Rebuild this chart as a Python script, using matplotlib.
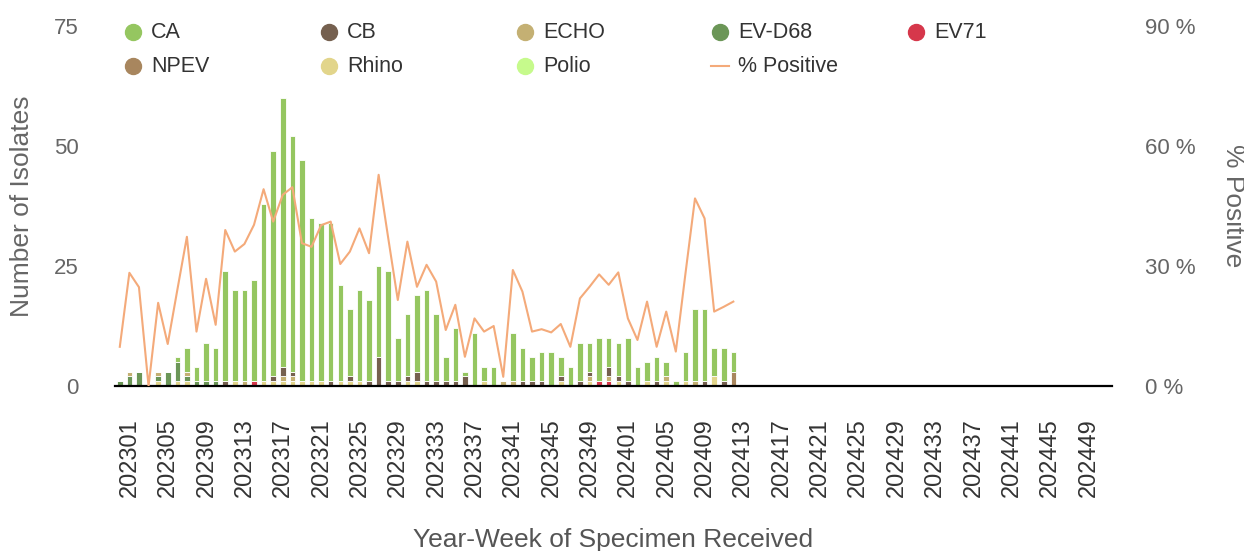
import numpy as np
import matplotlib
matplotlib.use("Agg")
import matplotlib.pyplot as plt
from matplotlib.lines import Line2D
import matplotlib.transforms as mtransforms

plt.rcParams['font.family'] = ['Liberation Sans', 'DejaVu Sans']

# categories: year-week 202301..202352, 202401..202452
weeks = [f"{y}{w:02d}" for y in (2023, 2024) for w in range(1, 53)]
tick_labels = weeks[::4]

# series (202301 .. 202413)
ca = [0, 0, 0, 0, 0, 0, 1, 5, 3, 8, 7,
      23, 19, 19, 21, 37, 47, 56, 49, 46, 34,
      33, 33, 20, 14, 19, 17, 19, 23, 9, 13,
      16, 19, 14, 5, 11, 1, 11, 3, 4, 0,
      10, 7, 5, 6, 7, 4, 4, 8, 6, 9,
      6, 7, 9, 4, 4, 5, 3, 1, 6, 15,
      15, 6, 7, 4]
cb = [0, 0, 0, 0, 0, 0, 0, 0, 0, 0, 0,
      1, 0, 0, 0, 0, 1, 2, 1, 0, 0,
      0, 1, 0, 1, 0, 1, 6, 1, 1, 1,
      2, 1, 1, 1, 1, 2, 0, 0, 0, 0,
      0, 1, 1, 1, 0, 1, 0, 1, 1, 0,
      2, 1, 1, 0, 0, 1, 0, 0, 0, 0,
      1, 0, 1, 0]
echo = [0, 1, 0, 0, 1, 0, 0, 1, 0, 0, 0,
        0, 0, 1, 0, 0, 0, 1, 1, 0, 0,
        0, 0, 0, 0, 0, 0, 0, 0, 0, 0,
        0, 0, 0, 0, 0, 0, 0, 0, 0, 1,
        1, 0, 0, 0, 0, 0, 0, 0, 1, 0,
        1, 0, 0, 0, 0, 0, 1, 0, 0, 1,
        0, 0, 0, 0]
evd68 = [1, 2, 3, 0, 1, 3, 4, 1, 1, 1, 1,
         0, 0, 0, 0, 0, 0, 0, 0, 0, 0,
         0, 0, 0, 0, 0, 0, 0, 0, 0, 0,
         0, 0, 0, 0, 0, 0, 0, 0, 0, 0,
         0, 0, 0, 0, 0, 0, 0, 0, 0, 0,
         0, 0, 0, 0, 0, 0, 0, 0, 0, 0,
         0, 0, 0, 0]
ev71 = [0, 0, 0, 0, 0, 0, 0, 0, 0, 0, 0,
        0, 0, 0, 1, 0, 0, 0, 0, 0, 0,
        0, 0, 0, 0, 0, 0, 0, 0, 0, 0,
        0, 0, 0, 0, 0, 0, 0, 0, 0, 0,
        0, 0, 0, 0, 0, 0, 0, 0, 0, 1,
        1, 0, 0, 0, 0, 0, 0, 0, 0, 0,
        0, 0, 0, 0]
npev = [0, 0, 0, 0, 0, 0, 0, 0, 0, 0, 0,
        0, 0, 0, 0, 0, 0, 0, 0, 0, 0,
        0, 0, 0, 0, 0, 0, 0, 0, 0, 0,
        0, 0, 0, 0, 0, 0, 0, 0, 0, 0,
        0, 0, 0, 0, 0, 0, 0, 0, 0, 0,
        0, 0, 0, 0, 0, 0, 0, 0, 0, 0,
        0, 0, 0, 3]
rhino = [0, 0, 0, 0, 1, 0, 1, 1, 0, 0, 0,
         0, 1, 0, 0, 1, 1, 1, 1, 1, 1,
         1, 0, 1, 1, 1, 0, 0, 0, 0, 1,
         1, 0, 0, 0, 0, 0, 0, 1, 0, 0,
         0, 0, 0, 0, 0, 1, 0, 0, 1, 0,
         0, 1, 0, 0, 1, 0, 1, 0, 1, 0,
         0, 2, 0, 0]
polio = [0] * 65
pct_positive = [9.8, 28.3, 24.7, 0, 20.8, 10.5, 24, 37.3, 13.6, 26.8, 15.3,
                39, 33.6, 35.5, 40.3, 49.2, 41.1, 47.8, 49.7, 35.7, 34.8,
                40.2, 41.1, 30.5, 33.6, 39.4, 33.2, 52.8, 37, 21.5, 36.1,
                24.8, 30.3, 26.1, 14, 20.3, 7.3, 16.9, 13.6, 15, 2.3,
                29, 23.6, 13.6, 14.2, 13.4, 15.5, 9.8, 21.9, 24.8, 27.9,
                25.3, 28.4, 16.9, 11.5, 21.1, 9.8, 18.6, 8.6, 28, 46.9,
                41.9, 18.6, 19.8, 21.1]

series_names = ["CA", "CB", "ECHO", "EV-D68", "EV71", "NPEV", "Rhino", "Polio"]
series_data = [ca, cb, echo, evd68, ev71, npev, rhino, polio]
series_colors = ["#95c660", "#75604f", "#c4b073", "#6b9657", "#d6374b",
                 "#a8865e", "#e2d58b", "#c6fa8c"]
line_color = "#f4aa7a"

W, H = 1244, 551
fig = plt.figure(figsize=(W / 100, H / 100), dpi=100)
ax = fig.add_axes([115 / W, 1 - 386 / H, (1112 - 115) / W, (386 - 26) / H])
ax2 = ax.twinx()

x = np.arange(len(ca))
bottom = np.zeros(len(ca))
# stack: last series at bottom, first (CA) on top
for name, data, col in reversed(list(zip(series_names, series_data, series_colors))):
    d = np.array(data, dtype=float)
    ax.bar(x, d, bottom=bottom, width=0.58, color=col, edgecolor="white",
           linewidth=0.6, zorder=2)
    bottom += d

ax.set_xlim(-0.5, len(weeks) - 0.5)
ax.set_ylim(0, 75)
ax.set_yticks([0, 25, 50, 75])
ax.set_xticks(np.arange(0, len(weeks), 4))
ax.set_xticklabels(tick_labels, rotation=90, fontsize=17, color="#333333")
ax.tick_params(axis="x", length=0, pad=23)
ax.tick_params(axis="y", length=0, pad=26, labelsize=16, labelcolor="#666666")
offset = mtransforms.ScaledTranslation(0.1, 0, fig.dpi_scale_trans)
for lab in ax.get_xticklabels():
    lab.set_transform(lab.get_transform() + offset)

for s in ["top", "left", "right"]:
    ax.spines[s].set_visible(False)
ax.spines["bottom"].set_color("black")
ax.spines["bottom"].set_linewidth(1.6)

ax2.plot(x, pct_positive, color=line_color, linewidth=1.5, zorder=3)
ax2.set_ylim(0, 90)
ax2.set_yticks([0, 30, 60, 90])
ax2.set_yticklabels([f"{v} %" for v in [0, 30, 60, 90]])
ax2.tick_params(axis="y", length=0, pad=24, labelsize=16, labelcolor="#666666")
for s in ["top", "left", "right", "bottom"]:
    ax2.spines[s].set_visible(False)

fig.text(22 / W, 1 - 206 / H, "Number of Isolates", rotation=90, ha="center",
         va="center", fontsize=19, color="#666666")
fig.text(1233 / W, 1 - 206 / H, "% Positive", rotation=270, ha="center",
         va="center", fontsize=19, color="#666666")
fig.text(613 / W, 1 - 540 / H, "Year-Week of Specimen Received", ha="center",
         va="center", fontsize=19, color="#555555")

# legend (two rows, fixed column width)
col_x = [133, 329, 525, 720, 916]
row_y = [32, 66]
items = list(zip(series_names, series_colors)) + [("% Positive", None)]
for i, (name, col) in enumerate(items):
    r, c = divmod(i, 5)
    cx = col_x[c] / W
    cy = 1 - row_y[r] / H
    if col is not None:
        fig.add_artist(Line2D([cx], [cy], marker="o", markersize=11.5,
                              color=col, linestyle="none",
                              transform=fig.transFigure))
    else:
        fig.add_artist(Line2D([cx - 9 / W, cx + 9 / W], [cy, cy], color=line_color,
                              linewidth=1.5, transform=fig.transFigure))
    fig.text(cx + 18 / W, cy, name, ha="left", va="center", fontsize=15.5,
             color="#333333")

fig.savefig("out.png", dpi=100)
